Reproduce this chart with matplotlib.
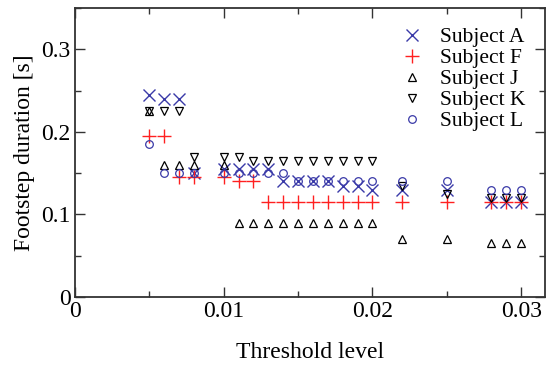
import matplotlib
matplotlib.use("Agg")
import matplotlib.pyplot as plt
from matplotlib.ticker import MultipleLocator, FuncFormatter

plt.rcParams['font.family'] = ['Liberation Serif', 'DejaVu Serif']

thr = [0.005, 0.006, 0.007, 0.008, 0.010, 0.011, 0.012, 0.013, 0.014, 0.015,
       0.016, 0.017, 0.018, 0.019, 0.020, 0.022, 0.025, 0.028, 0.029, 0.030]

subj_a = [0.245, 0.24, 0.24, 0.15, 0.155, 0.155, 0.155, 0.155, 0.14, 0.14,
          0.14, 0.14, 0.135, 0.135, 0.13, 0.13, 0.13, 0.115, 0.115, 0.115]
subj_f = [0.195, 0.195, 0.145, 0.145, 0.145, 0.14, 0.14, 0.115, 0.115, 0.115,
          0.115, 0.115, 0.115, 0.115, 0.115, 0.115, 0.115, 0.115, 0.115, 0.115]
subj_j = [0.225, 0.16, 0.16, 0.16, 0.16, 0.09, 0.09, 0.09, 0.09, 0.09,
          0.09, 0.09, 0.09, 0.09, 0.09, 0.07, 0.07, 0.065, 0.065, 0.065]
subj_k = [0.225, 0.225, 0.225, 0.17, 0.17, 0.17, 0.165, 0.165, 0.165, 0.165,
          0.165, 0.165, 0.165, 0.165, 0.165, 0.135, 0.125, 0.12, 0.12, 0.12]
subj_l = [0.185, 0.15, 0.15, 0.15, 0.15, 0.15, 0.15, 0.15, 0.15, 0.14,
          0.14, 0.14, 0.14, 0.14, 0.14, 0.14, 0.14, 0.13, 0.13, 0.13]

blue = '#3a3aa8'
red = '#ff2020'


def fmt(v, pos):
    return '0' if abs(v) < 1e-9 else '%g' % v


fig = plt.figure(figsize=(5.49, 3.65), dpi=100)
ax = fig.add_axes([0.1366, 0.1863, 0.8561, 0.7917])

ax.plot(thr, subj_a, ls='none', marker='x', ms=9, mew=1.0, color=blue, label='Subject A')
ax.plot(thr, subj_f, ls='none', marker='+', ms=10, mew=1.0, color=red, label='Subject F')
ax.plot(thr, subj_j, ls='none', marker='^', ms=5.5, mew=0.9, mfc='none', color='black', label='Subject J')
ax.plot(thr, subj_k, ls='none', marker='v', ms=5.5, mew=0.9, mfc='none', color='black', label='Subject K')
ax.plot(thr, subj_l, ls='none', marker='o', ms=5.5, mew=0.9, mfc='none', color=blue, label='Subject L')

ax.set_xlim(0, 0.0316)
ax.set_ylim(0, 0.35)
ax.xaxis.set_major_locator(MultipleLocator(0.01))
ax.xaxis.set_minor_locator(MultipleLocator(0.005))
ax.yaxis.set_major_locator(MultipleLocator(0.1))
ax.yaxis.set_minor_locator(MultipleLocator(0.05))
ax.xaxis.set_major_formatter(FuncFormatter(fmt))
ax.yaxis.set_major_formatter(FuncFormatter(fmt))

ax.tick_params(which='both', direction='in', top=True, right=True, labelsize=17,
               color='#333333', width=1.0)
ax.tick_params(which='major', length=7, pad=3)
ax.tick_params(which='minor', length=4)
for s in ax.spines.values():
    s.set_linewidth(1.3)
    s.set_color('#333333')

ax.set_xlabel('Threshold level', fontsize=17, labelpad=14)
ax.set_ylabel('Footstep duration [s]', fontsize=17, labelpad=5)

ax.legend(loc='upper right', frameon=False, fontsize=15.5, handlelength=1.0,
          handletextpad=0.8, labelspacing=0.04, borderaxespad=0.5,
          bbox_to_anchor=(1.0, 1.0))

fig.savefig('out.png', dpi=100)
